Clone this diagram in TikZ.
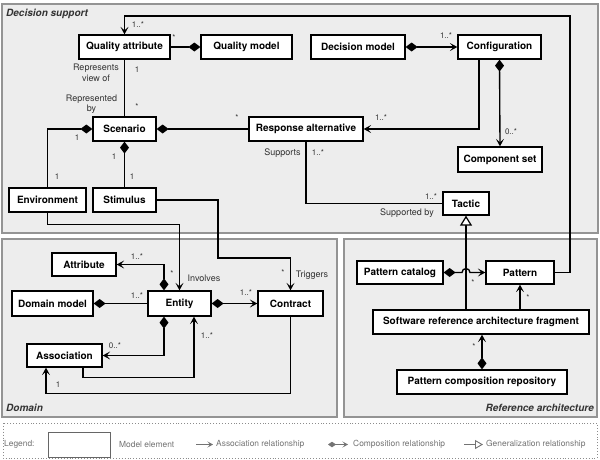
\documentclass[tikz,border=0pt]{standalone}
\usepackage{fontspec}
\setmainfont{TeX Gyre Heros}
\usetikzlibrary{arrows.meta,calc}
\tikzset{
  arr/.tip={Stealth[length=7.5pt,width=8pt,inset=3.5pt]},
  dia/.tip={Diamond[length=12pt,width=9pt]},
  gtri/.tip={Triangle[length=10pt,width=12pt,fill=white,line width=1.2pt]},
}
\begin{document}
\begin{tikzpicture}[x=1pt,y=-1pt,
  box/.style={draw=black,line width=1.3pt,fill=white,minimum height=24pt,inner sep=0pt,font=\fontsize{10}{12}\selectfont\bfseries},
  panel/.style={draw=black!42,line width=1.4pt,fill=black!7},
  ptitle/.style={font=\fontsize{10}{12}\selectfont\bfseries\itshape,text=black!80,inner sep=0pt},
  lbl/.style={font=\fontsize{9}{10.5}\selectfont,text=black!80,inner sep=0pt,align=center},
  mult/.style={font=\fontsize{8}{9}\selectfont,text=black!80,inner sep=0pt},
  conn/.style={line width=1.35pt,draw=black},
  legtext/.style={font=\fontsize{8.4}{10}\selectfont,text=black!55,inner sep=0pt,anchor=west},
  legline/.style={line width=0.9pt,draw=black!55},
]
\useasboundingbox (0,0) rectangle (600,459);
\fill[white] (0,0) rectangle (600,459);

% panels
\draw[panel] (2,4) rectangle (598,233);
\draw[panel] (2,239) rectangle (337,417);
\draw[panel] (344,239) rectangle (597,417);
\node[ptitle,anchor=west] (tds) at (6,14) {Decision support};
\node[ptitle,anchor=west] (tdo) at (6,408) {Domain};
\node[ptitle,anchor=east] (tra) at (594,408) {Reference architecture};

% nodes: decision support
\node[box,minimum width=91pt] (QA) at (124.5,47) {Quality attribute};
\node[box,minimum width=91pt] (QM) at (246.5,47) {Quality model};
\node[box,minimum width=94pt] (DM) at (358,47) {Decision model};
\node[box,minimum width=83pt] (Conf) at (499.5,47) {Configuration};
\node[box,minimum width=63pt] (Scen) at (124.5,129) {Scenario};
\node[box,minimum width=114pt] (RA) at (306,129) {Response alternative};
\node[box,minimum width=84pt,minimum height=25pt] (CS) at (500,159.5) {Component set};
\node[box,minimum width=77pt] (Env) at (47.5,200) {Environment};
\node[box,minimum width=63pt] (Stim) at (124.5,200) {Stimulus};
\node[box,minimum width=46pt,minimum height=23pt] (Tac) at (466,203.5) {Tactic};

% nodes: domain
\node[box,minimum width=64pt,minimum height=23pt] (Attr) at (84,264.5) {Attribute};
\node[box,minimum width=81pt,minimum height=25pt] (DomM) at (52.5,303.5) {Domain model};
\node[box,minimum width=63pt,minimum height=25pt] (Ent) at (179.5,303.5) {Entity};
\node[box,minimum width=65pt,minimum height=25pt] (Con) at (290.5,303.5) {Contract};
\node[box,minimum width=75pt,minimum height=23pt] (Asc) at (64.5,355.5) {Association};

% nodes: reference architecture
\node[box,minimum width=86pt,minimum height=23pt] (PC) at (400,272.5) {Pattern catalog};
\node[box,minimum width=68pt,minimum height=23pt] (Pat) at (520,272.5) {Pattern};
\node[box,minimum width=216pt] (SRAF) at (481,322) {Software reference architecture fragment};
\node[box,minimum width=170pt] (PCR) at (482,382) {Pattern composition repository};

% helper coordinates
\coordinate (c1) at (570,16);
\coordinate (c4) at (218,258);

% connectors: decision support
\draw[conn,-{dia}] (QA) -- (QM);
\draw[conn,-{arr}] (Pat.east) -| (c1) -| (QA.north);
\draw[conn] (QA) -- (Scen);
\draw[conn,{dia}-{arr}] (DM) -- (Conf);
\draw[conn,-{arr}] ([xshift=-20.5pt]Conf.south) |- (RA.east);
\draw[conn,{dia}-{arr}] (Conf.south) -- (CS.north);
\draw[conn,{dia}-] (Scen.east) -- (RA.west);
\draw[conn] (RA.south) |- (Tac.west);
\draw[conn,{dia}-] (Scen.west) -| (Env.north);
\draw[conn,{dia}-] (Scen.south) -- (Stim.north);
\draw[conn,-{arr}] (Env.south) -- ++(0,12) -| (Ent.north);
\draw[conn,-{arr}] (Stim.east) -| (c4) -| (Con.north);

% connectors: domain
\draw[conn,{dia}-{arr}] ([xshift=-15.5pt]Ent.north) |- (Attr.east);
\draw[conn,-{dia}] (Ent.west) -- (DomM.east);
\draw[conn,{dia}-{arr}] (Ent.east) -- (Con.west);
\draw[conn,{dia}-{arr}] ([xshift=-15.5pt]Ent.south) |- (Asc.east);
\draw[conn,-{arr}] ([xshift=18.5pt]Asc.south) -- ++(0,10) -| ([xshift=14.5pt]Ent.south);
\draw[conn,-{arr}] (Con.south) -- ++(0,77) -| ([xshift=-18.5pt]Asc.south);

% connectors: reference architecture
\draw[conn,-{gtri}] (Tac.south |- SRAF.north) -- (Tac.south);
\draw[conn,{dia}-{arr}] (PC.east) -- ([xshift=-4pt]Tac.south |- PC.east) arc[start angle=180,end angle=0,radius=4pt] -- (Pat.west);
\draw[conn,-{arr}] (Pat.south |- SRAF.north) -- (Pat.south);
\draw[conn,{dia}-{arr}] (PCR.north) -- (PCR.north |- SRAF.south);

% labels
\node[mult] (m1) at (138,25) {1..*};
\node[mult] (m2) at (174,38) {*};
\node[lbl] (l1) at (96,73) {Represents\\view of};
\node[mult] (m3) at (137,70) {1};
\node[lbl] (l2) at (91.5,104) {Represented\\by};
\node[mult] (m4) at (137,107) {*};
\node[mult] (m5) at (77,138) {1};
\node[mult] (m6) at (237,118) {*};
\node[mult] (m7) at (114,157) {1};
\node[mult] (m8) at (57,177) {1};
\node[mult] (m9) at (132,177) {1};
\node[lbl] (l3) at (282.5,153) {Supports};
\node[mult] (m10) at (318,153) {1..*};
\node[mult] (m11) at (381,118) {1..*};
\node[mult] (m12) at (446,36) {1..*};
\node[mult] (m13) at (511,132) {0..*};
\node[mult] (m14) at (431,197) {1..*};
\node[lbl] (l4) at (407,213) {Supported by};
\node[mult] (m15) at (137,257) {1..*};
\node[mult] (m16) at (172,274) {*};
\node[lbl] (l5) at (204,278) {Involves};
\node[mult] (m17) at (283,273) {*};
\node[lbl] (l6) at (312,275) {Triggers};
\node[mult] (m18) at (137,296) {1..*};
\node[mult] (m19) at (246,293) {1..*};
\node[mult] (m20) at (207,336) {1..*};
\node[mult] (m21) at (115,346) {0..*};
\node[mult] (m22) at (58,385) {1};
\node[mult] (m23) at (473,283) {*};
\node[mult] (m24) at (528,298) {*};
\node[mult] (m25) at (474,347) {*};

% legend
\draw[draw=black!45,line width=0.9pt,dotted] (3,423) rectangle (597,458);
\node[legtext] (lg0) at (4,444.5) {Legend:};
\node[draw=black!60,line width=1pt,fill=white,minimum width=62pt,minimum height=25pt,inner sep=0pt] (lgbox) at (79,444.5) {};
\node[legtext] (lg1) at (119,444.5) {Model element};
\coordinate (la1) at (196,444.5);
\coordinate (la2) at (213,444.5);
\draw[legline,-{Stealth[length=5.5pt,width=6pt,inset=2.5pt]}] (la1) -- (la2);
\node[legtext] (lg2) at (216,444.5) {Association relationship};
\coordinate (lc1) at (328,444.5);
\coordinate (lc2) at (348,444.5);
\draw[legline,{Diamond[length=8pt,width=5.5pt]}-{Stealth[length=5.5pt,width=6pt,inset=2.5pt]}] (lc1) -- (lc2);
\node[legtext] (lg3) at (353,444.5) {Composition relationship};
\coordinate (lt1) at (464,444.5);
\coordinate (lt2) at (483,444.5);
\draw[legline,-{Triangle[open,length=8pt,width=9pt]}] (lt1) -- (lt2);
\node[legtext] (lg4) at (486,444.5) {Generalization relationship};
\end{tikzpicture}
\end{document}
